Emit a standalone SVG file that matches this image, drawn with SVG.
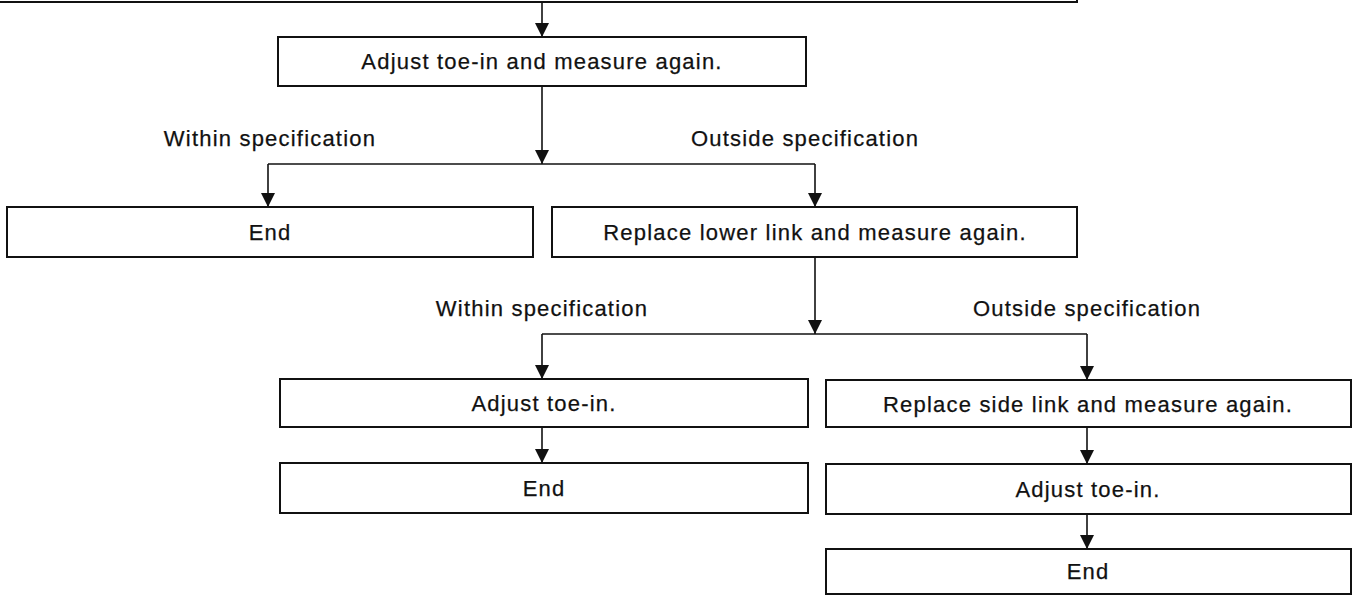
<svg xmlns="http://www.w3.org/2000/svg" width="1353" height="596" viewBox="0 0 1353 596">
  <style>
    .box { fill: #fff; stroke: #111; stroke-width: 2; }
    .txt { font-family: "Liberation Sans", Arial, sans-serif; font-size: 22px; letter-spacing: 1.2px; fill: #111; stroke: #111; stroke-width: 0.25; text-anchor: middle; }
    .conn { fill: none; stroke: #111; stroke-width: 1.6; }
  </style>
  <defs>
    <marker id="ah" viewBox="0 0 14 14" refX="14" refY="7" markerWidth="14" markerHeight="14" markerUnits="userSpaceOnUse" orient="auto">
      <path d="M0,0 L14,7 L0,14 z" fill="#111"/>
    </marker>
  </defs>
  <rect width="1353" height="596" fill="#fff"/>

  <g id="connectors">
    <line class="conn" x1="542" y1="3" x2="542" y2="37" marker-end="url(#ah)"/>
    <line class="conn" x1="542" y1="86" x2="542" y2="164" marker-end="url(#ah)"/>
    <line class="conn" x1="268" y1="164" x2="815" y2="164"/>
    <line class="conn" x1="268" y1="164" x2="268" y2="207" marker-end="url(#ah)"/>
    <line class="conn" x1="815" y1="164" x2="815" y2="207" marker-end="url(#ah)"/>
    <line class="conn" x1="815" y1="257" x2="815" y2="334" marker-end="url(#ah)"/>
    <line class="conn" x1="542" y1="334" x2="1087" y2="334"/>
    <line class="conn" x1="542" y1="334" x2="542" y2="379" marker-end="url(#ah)"/>
    <line class="conn" x1="1087" y1="334" x2="1087" y2="380" marker-end="url(#ah)"/>
    <line class="conn" x1="542" y1="427" x2="542" y2="463" marker-end="url(#ah)"/>
    <line class="conn" x1="1087" y1="427" x2="1087" y2="464" marker-end="url(#ah)"/>
    <line class="conn" x1="1087" y1="514" x2="1087" y2="549" marker-end="url(#ah)"/>
    <text class="txt" x="270" y="146">Within specification</text>
    <text class="txt" x="805" y="146">Outside specification</text>
    <text class="txt" x="542" y="316">Within specification</text>
    <text class="txt" x="1087" y="316">Outside specification</text>
  </g>

  <g id="node-top">
    <rect class="box" x="-5" y="-50" width="1082" height="52"/>
  </g>
  <g id="node-adjust1">
    <rect class="box" x="278" y="37" width="528" height="49"/>
    <text class="txt" x="542" y="69">Adjust toe-in and measure again.</text>
  </g>
  <g id="node-end1">
    <rect class="box" x="7" y="207" width="526" height="50"/>
    <text class="txt" x="270" y="240">End</text>
  </g>
  <g id="node-replace-lower">
    <rect class="box" x="552" y="207" width="525" height="50"/>
    <text class="txt" x="815" y="240">Replace lower link and measure again.</text>
  </g>
  <g id="node-adjust2">
    <rect class="box" x="280" y="379" width="528" height="48"/>
    <text class="txt" x="544" y="411">Adjust toe-in.</text>
  </g>
  <g id="node-end2">
    <rect class="box" x="280" y="463" width="528" height="50"/>
    <text class="txt" x="544" y="496">End</text>
  </g>
  <g id="node-replace-side">
    <rect class="box" x="826" y="380" width="525" height="47"/>
    <text class="txt" x="1088" y="412">Replace side link and measure again.</text>
  </g>
  <g id="node-adjust3">
    <rect class="box" x="826" y="464" width="525" height="50"/>
    <text class="txt" x="1088" y="497">Adjust toe-in.</text>
  </g>
  <g id="node-end3">
    <rect class="box" x="826" y="549" width="525" height="45"/>
    <text class="txt" x="1088" y="579">End</text>
  </g>
</svg>
